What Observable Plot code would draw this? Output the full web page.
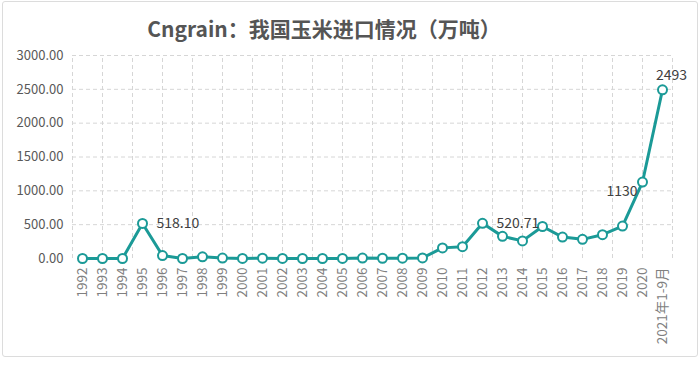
<!DOCTYPE html>
<html>
<head>
<meta charset="utf-8">
<script src="https://cdn.jsdelivr.net/npm/d3@7"></script>
<script src="https://cdn.jsdelivr.net/npm/@observablehq/plot@0.6"></script>
<style>
  html, body { margin: 0; padding: 0; background: #fff; }
  #wrap { position: relative; width: 700px; height: 367px; overflow: hidden; font-family: "Noto Sans CJK SC", "Noto Sans", sans-serif; }
  #frame { position: absolute; left: 2px; top: 1px; width: 694px; height: 354px; border: 1px solid #dcdcdc; border-radius: 3px; pointer-events: none; }
  #title { position: relative; height: 29px; padding-top: 15px; width: 648px; text-align: center; font-size: 21px; line-height: 26px; font-weight: bold; color: #555; }
</style>
</head>
<body>
<div id="wrap">
  <div id="frame"></div>
  <div id="title">Cngrain：我国玉米进口情况（万吨）</div>
  <div id="chart"></div>
</div>
<script>
const years = ["1992","1993","1994","1995","1996","1997","1998","1999","2000","2001","2002","2003","2004","2005","2006","2007","2008","2009","2010","2011","2012","2013","2014","2015","2016","2017","2018","2019","2020","2021年1-9月"];
const imports = [0, 0, 0, 518.10, 44, 0.2, 25, 7, 0.3, 4, 1, 0.1, 0.2, 0.4, 6.5, 3.5, 5, 8.4, 157, 175, 520.71, 327, 260, 473, 317, 283, 352, 479, 1130, 2493];
const yTicks = [0, 500, 1000, 1500, 2000, 2500, 3000];
const labelYears = ["1995", "2012", "2020", "2021年1-9月"];
const labelTexts = ["518.10", "520.71", "1130", "2493"];

const data = years.map((y, i) => ({i, year: y, value: imports[i]}));
const lab = labelYears.map((y, k) => ({i: years.indexOf(y), value: imports[years.indexOf(y)], text: labelTexts[k]}));
const gridX = d3.range(-0.5, years.length, 1.5);
const teal = "#1b9a97";

const chart = Plot.plot({
  width: 700,
  height: 323,
  marginTop: 11,
  marginBottom: 109,
  marginLeft: 72,
  marginRight: 28,
  style: {fontFamily: "'Noto Sans CJK SC', 'Noto Sans', sans-serif", background: "transparent"},
  x: {type: "linear", domain: [-0.5, years.length - 0.5]},
  y: {domain: [0, 3000]},
  marks: [
    Plot.ruleY(yTicks.filter(d => d > 0), {stroke: "#d6d6d6", strokeDasharray: "4,3", strokeWidth: 1}),
    Plot.ruleX(gridX, {y1: 0, y2: 3000, stroke: "#d6d6d6", strokeDasharray: "4,3", strokeWidth: 1}),
    Plot.axisY({ticks: yTicks, tickFormat: d => d.toFixed(2), tickSize: 0, tickPadding: 9, fontSize: 13, color: "#595959", label: null}),
    Plot.axisX({ticks: d3.range(years.length), tickFormat: i => years[i], tickSize: 0, tickPadding: 9, tickRotate: -90, fontSize: 13.5, color: "#808080", label: null}),
    Plot.line(data, {x: "i", y: "value", stroke: teal, strokeWidth: 3, curve: "linear"}),
    Plot.dot(data, {x: "i", y: "value", r: 4.5, fill: "white", stroke: teal, strokeWidth: 2}),
    Plot.text(lab.slice(0, 2), {x: "i", y: "value", text: "text", textAnchor: "start", dx: 14, fontSize: 14, fill: "#404040"}),
    Plot.text(lab.slice(2, 3), {x: "i", y: "value", text: "text", textAnchor: "end", dx: -5, dy: 9, fontSize: 14, fill: "#404040"}),
    Plot.text(lab.slice(3, 4), {x: "i", y: "value", text: "text", textAnchor: "middle", dx: 9, dy: -14, fontSize: 14, fill: "#404040"})
  ]
});
document.getElementById("chart").appendChild(chart);
</script>
</body>
</html>
